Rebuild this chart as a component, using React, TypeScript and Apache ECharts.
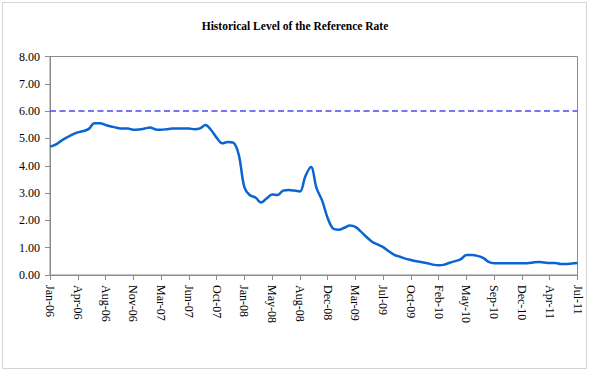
import React, { useEffect, useRef } from "react";
import * as echarts from "echarts";

const tickLabels = [
  "Jan-06", "Apr-06", "Aug-06", "Nov-06", "Mar-07", "Jun-07", "Oct-07", "Jan-08",
  "May-08", "Aug-08", "Dec-08", "Mar-09", "Jul-09", "Oct-09", "Feb-10", "May-10",
  "Sep-10", "Dec-10", "Apr-11", "Jul-11",
];

const pointsPerTick = 5;

const rateValues = [
  4.70, 4.77, 4.91, 5.03, 5.14, 5.22, 5.27, 5.35, 5.56, 5.56,
  5.49, 5.44, 5.39, 5.36, 5.36, 5.32, 5.33, 5.36, 5.40, 5.33,
  5.32, 5.34, 5.36, 5.36, 5.36, 5.36, 5.34, 5.37, 5.49, 5.31,
  5.03, 4.82, 4.87, 4.85, 4.40, 3.22, 2.92, 2.84, 2.65, 2.80,
  2.95, 2.93, 3.09, 3.11, 3.09, 3.06, 3.62, 3.95, 3.18, 2.73,
  2.09, 1.70, 1.66, 1.73, 1.81, 1.76, 1.59, 1.39, 1.22, 1.12,
  1.02, 0.87, 0.74, 0.67, 0.60, 0.55, 0.50, 0.47, 0.43, 0.38,
  0.36, 0.38, 0.45, 0.51, 0.58, 0.73, 0.73, 0.70, 0.63, 0.48,
  0.43, 0.43, 0.43, 0.43, 0.43, 0.43, 0.43, 0.46, 0.48, 0.46,
  0.44, 0.44, 0.40, 0.40, 0.42, 0.44,
];

const referenceCap = 6.0;

const FONT = '"Liberation Serif", "Times New Roman", serif';

export default function App() {
  const ref = useRef<HTMLDivElement>(null);

  useEffect(() => {
    document.body.style.margin = "0";
    if (!ref.current) return;
    const chart = echarts.init(ref.current, null, { renderer: "svg" });
    const categories = rateValues.map((_, i) => String(i));
    chart.setOption({
      animation: false,
      backgroundColor: "#ffffff",
      title: {
        text: "Historical Level of the Reference Rate",
        left: "center",
        top: 15,
        textStyle: {
          fontFamily: FONT,
          fontSize: 11.5,
          fontWeight: "bold",
          color: "#000",
        },
      },
      graphic: [
        {
          type: "rect",
          shape: { x: 2.5, y: 2.5, width: 584, height: 366 },
          style: { fill: "none", stroke: "#d4d4d4", lineWidth: 1 },
          silent: true,
        },
      ],
      grid: {
        left: 50,
        right: 12.5,
        top: 56.5,
        bottom: 98,
        show: true,
        borderColor: "#8c8c8c",
        borderWidth: 1,
        backgroundColor: "transparent",
      },
      xAxis: {
        type: "category",
        data: categories,
        boundaryGap: false,
        axisLine: { lineStyle: { color: "#8c8c8c", width: 1 } },
        axisTick: {
          show: true,
          interval: pointsPerTick - 1,
          length: 5,
          lineStyle: { color: "#8c8c8c" },
        },
        axisLabel: {
          interval: pointsPerTick - 1,
          rotate: -90,
          margin: 10,
          fontFamily: FONT,
          fontSize: 12,
          color: "#000",
          formatter: (_v: string, idx: number) =>
            tickLabels[Math.round(idx / pointsPerTick)] ?? "",
        },
        splitLine: { show: false },
      },
      yAxis: {
        type: "value",
        min: 0,
        max: 8,
        interval: 1,
        axisLine: { show: true, lineStyle: { color: "#8c8c8c", width: 1 } },
        axisTick: { show: true, length: 5, lineStyle: { color: "#8c8c8c" } },
        axisLabel: {
          margin: 10,
          fontFamily: FONT,
          fontSize: 12,
          color: "#000",
          formatter: (v: number) => v.toFixed(2),
        },
        splitLine: { show: false },
      },
      series: [
        {
          type: "line",
          data: rateValues,
          smooth: 0.35,
          showSymbol: false,
          symbol: "none",
          lineStyle: { color: "#0a64d2", width: 2.5 },
          markLine: {
            silent: true,
            symbol: "none",
            label: { show: false },
            lineStyle: { color: "#4a4af5", width: 1.6, type: [6, 3.5] },
            data: [{ yAxis: referenceCap }],
          },
        },
      ],
    });
    return () => chart.dispose();
  }, []);

  return <div ref={ref} style={{ width: 590, height: 373 }} />;
}
